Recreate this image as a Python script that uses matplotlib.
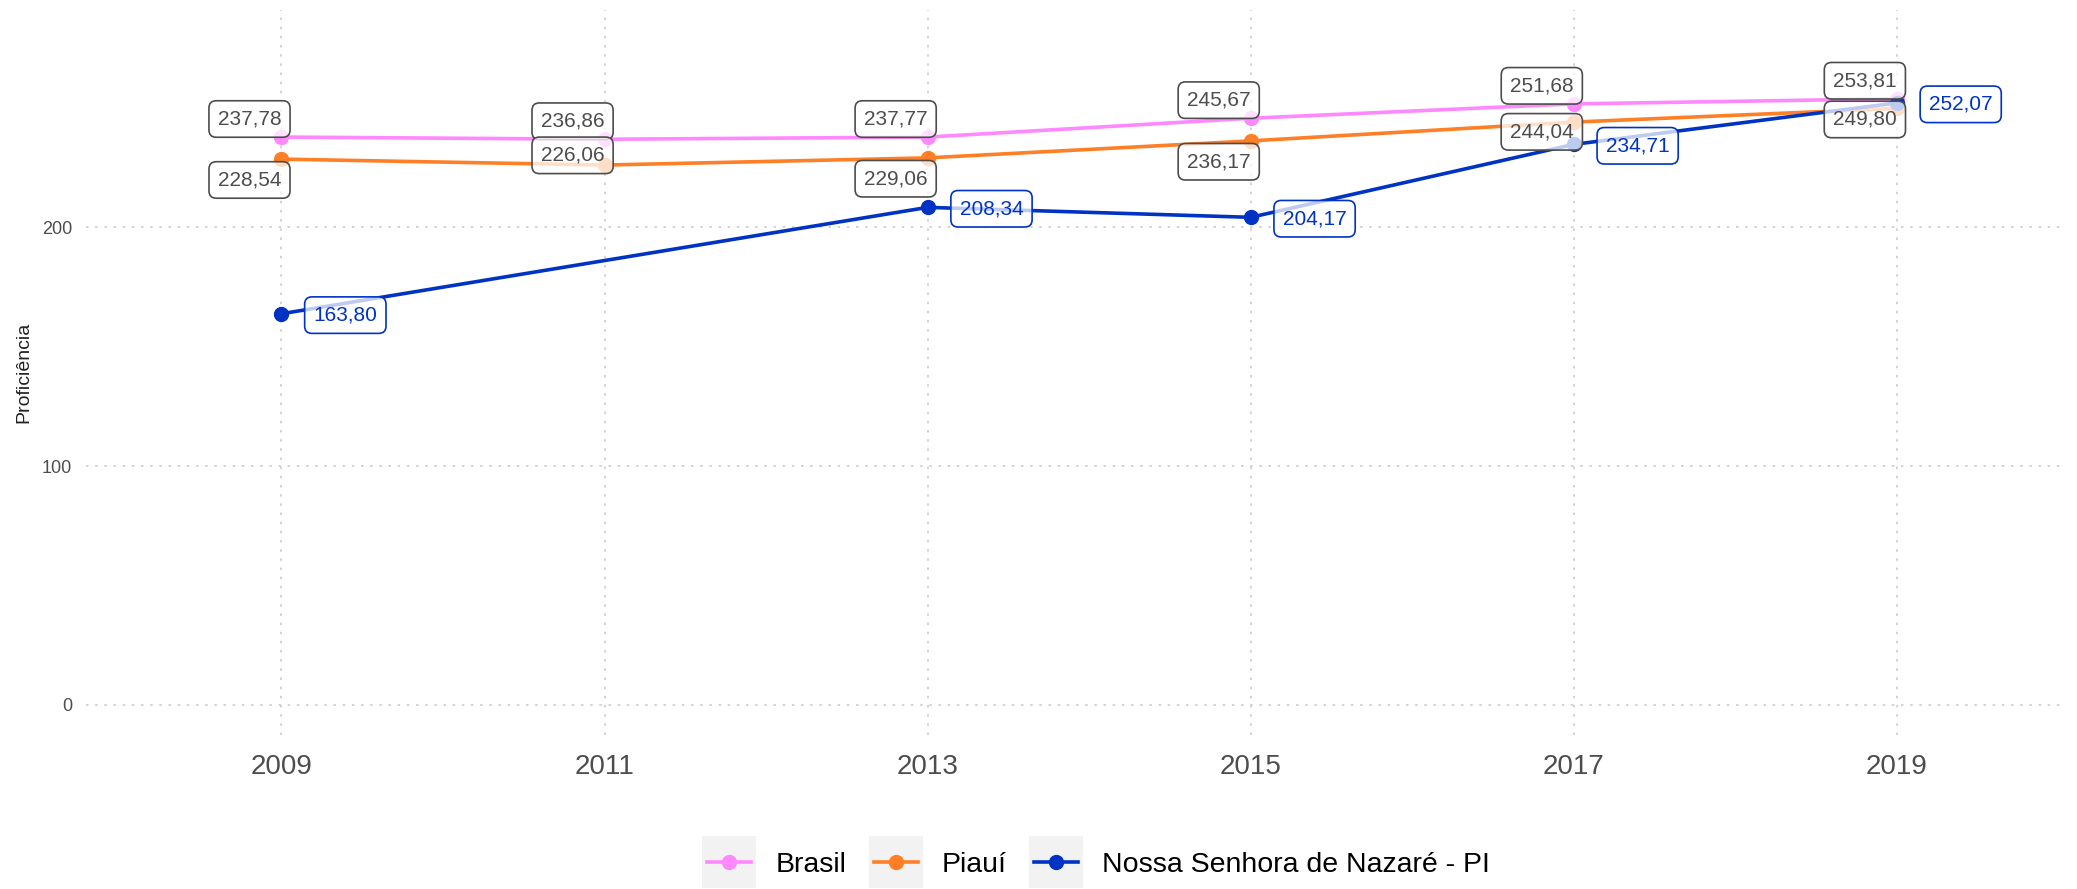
import matplotlib
matplotlib.use("Agg")
import matplotlib.pyplot as plt
from matplotlib.legend_handler import HandlerLine2D
from matplotlib.patches import Rectangle

plt.rcParams['font.family'] = ['Liberation Sans', 'DejaVu Sans']

years_br = [2009, 2011, 2013, 2015, 2017, 2019]
brasil = [237.78, 236.86, 237.77, 245.67, 251.68, 253.81]
years_pi = [2009, 2011, 2013, 2015, 2017, 2019]
piaui = [228.54, 226.06, 229.06, 236.17, 244.04, 249.80]
years_ns = [2009, 2013, 2015, 2017, 2019]
nossa = [163.80, 208.34, 204.17, 234.71, 252.07]
series_names = ["Brasil", "Piauí", "Nossa Senhora de Nazaré - PI"]
colors = ["#FF88FF", "#FF7F27", "#0033C4"]
xticks = [2009, 2011, 2013, 2015, 2017, 2019]
yticks = [0, 100, 200]

fig = plt.figure(figsize=(20.77, 8.89), dpi=100)
ax = fig.add_axes([0.0414, 0.1732, 0.9504, 0.8156])

ax.set_xlim(2007.79, 2020.01)
ax.set_ylim(-12.6, 291)

for s in ax.spines.values():
    s.set_visible(False)
ax.set_xticks(xticks)
ax.set_yticks(yticks)
ax.grid(True, which='major', color='#CCCCCC', linestyle=(0, (1.5, 4)), linewidth=1.2)
ax.set_axisbelow(True)
ax.tick_params(axis='x', length=0, labelsize=20, labelcolor='#4D4D4D', pad=14)
ax.tick_params(axis='y', length=0, labelsize=13, labelcolor='#4D4D4D', pad=10)
ax.set_ylabel("Proficiência", fontsize=14, color='#222222', labelpad=7)

def fmt(v):
    return f"{v:.2f}".replace('.', ',')

data = [(years_br, brasil), (years_pi, piaui), (years_ns, nossa)]
handles = []
for (xs, ys), name, c in zip(data, series_names, colors):
    h, = ax.plot(xs, ys, color=c, linewidth=2.6, marker='o', markersize=10,
                 label=name, zorder=3)
    handles.append(h)

def label(x, y, dx, dy, txt_color, edge_color):
    ax.annotate(fmt(y), xy=(x, y), xytext=(dx, dy), textcoords='offset points',
                ha='center', va='center', fontsize=15, color=txt_color, zorder=5,
                bbox=dict(boxstyle='round,pad=0.42,rounding_size=0.35', fc=(1, 1, 1, 0.75),
                          ec=edge_color, lw=1.2))

for x, y in zip(years_br, brasil):
    label(x, y, -23, 13, '#4D4D4D', '#4D4D4D')
pi_dy = [-15, 7, -15, -15, -7, -8]
for x, y, d in zip(years_pi, piaui, pi_dy):
    label(x, y, -23, d, '#4D4D4D', '#4D4D4D')
for x, y in zip(years_ns, nossa):
    label(x, y, 46, -1, colors[2], colors[2])


class KeyHandler(HandlerLine2D):
    def create_artists(self, legend, orig_handle, xdescent, ydescent, width, height,
                       fontsize, trans):
        padx = 3.6
        boxh = 37.4
        cy = -ydescent + height / 2.0
        rect = Rectangle((-xdescent - padx, cy - boxh / 2.0), width + 2 * padx, boxh,
                         facecolor='#F2F2F2', edgecolor='none', transform=trans)
        arts = super().create_artists(legend, orig_handle, xdescent, ydescent, width,
                                      height, fontsize, trans)
        return [rect] + list(arts)


hmap = {h: KeyHandler() for h in handles}
leg = fig.legend(handles=handles, labels=series_names, loc='center',
                 bbox_to_anchor=(0.529, 0.027), ncol=3, frameon=False, fontsize=20.5,
                 handlelength=1.55, handletextpad=0.85, columnspacing=0.95,
                 handler_map=hmap, borderpad=0.2)

fig.savefig("out.png", dpi=100)
